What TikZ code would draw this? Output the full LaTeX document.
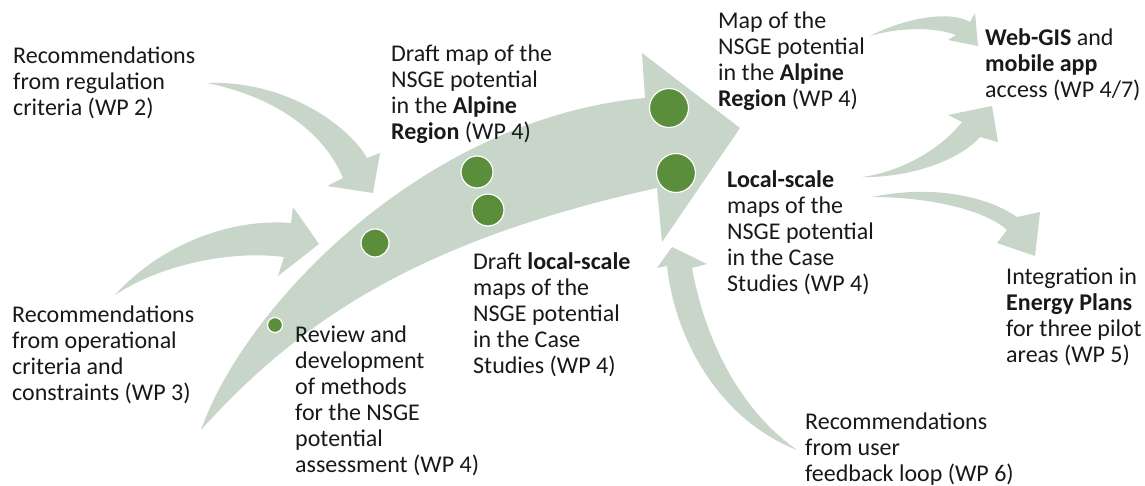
\documentclass[tikz,border=0pt]{standalone}
\usepackage{fontspec}
\setmainfont{Carlito}
\definecolor{arrowfill}{RGB}{200,214,201}
\definecolor{dotgreen}{RGB}{91,142,58}
\definecolor{txt}{RGB}{25,25,25}
\tikzset{
  lbl/.style={anchor=base west, align=left, inner sep=0pt, text=txt,
    font=\fontsize{24}{26}\selectfont},
  shaft/.style={fill=arrowfill, draw=none},
  dot/.style={circle, fill=dotgreen, draw=white, line width=1.2pt, inner sep=0pt}
}
\begin{document}
\begin{tikzpicture}[x=1pt, y=-1pt]
\useasboundingbox (0,0) rectangle (1145,486);
\fill[white] (0,0) rectangle (1145,486);

% main arrow
\path[shaft] (201,430) .. controls (245,305) and (425,118) .. (645,98)
  -- (642,53) -- (740,128) -- (662,242) -- (657,188)
  .. controls (420,240) and (300,320) .. (201,430) -- cycle;

% arrow from regulation criteria
\path[shaft] (207,83) .. controls (285,80) and (348,125) .. (367,158)
  -- (380,153) -- (373,193) -- (327,186) -- (343,178)
  .. controls (325,135) and (280,98) .. (207,83) -- cycle;

% arrow from operational criteria
\path[shaft] (115,295) .. controls (160,245) and (230,218) .. (291,223)
  -- (293,207) -- (319,244) -- (278,276) -- (284,257)
  .. controls (230,250) and (160,265) .. (115,295) -- cycle;

% arrow Map -> Web-GIS
\path[shaft] (870,36) .. controls (905,18) and (950,10) .. (970,22)
  -- (975,13) -- (978,46) -- (948,40) -- (956,35)
  .. controls (935,27) and (900,27) .. (870,36) -- cycle;

% arrow Local -> Web-GIS
\path[shaft] (862,177) .. controls (900,172) and (940,150) .. (962,122)
  -- (948,115) -- (992,106) -- (998,142) -- (980,137)
  .. controls (960,160) and (910,178) .. (862,177) -- cycle;

% arrow Local -> Integration
\path[shaft] (872,197) .. controls (930,185) and (985,195) .. (1017,217)
  -- (1040,212) -- (1035,256) -- (997,243) -- (1007,230)
  .. controls (985,210) and (930,197) .. (872,197) -- cycle;

% feedback arrow
\path[shaft] (797,450) .. controls (740,410) and (705,340) .. (692,268)
  -- (707,264) -- (672,247) -- (657,268) -- (667,266)
  .. controls (675,340) and (720,420) .. (797,450) -- cycle;

% dots
\node[dot, minimum size=15pt] (c1) at (275,325) {};
\node[dot, minimum size=28pt] (c2) at (375,243) {};
\node[dot, minimum size=32pt] (c3) at (477,172) {};
\node[dot, minimum size=32pt] (c4) at (488,210) {};
\node[dot, minimum size=39pt] (c5) at (669,108) {};
\node[dot, minimum size=39pt] (c6) at (676,173) {};

% texts (anchored at the baseline of their last line)
\node[lbl] (treg) at (13,116) {Recommendations\\from regulation\\criteria (WP 2)};
\node[lbl] (top) at (12,400) {Recommendations\\from operational\\criteria and\\constraints (WP 3)};
\node[lbl] (trev) at (295,472) {Review and\\development\\of methods\\for the NSGE\\potential\\assessment (WP 4)};
\node[lbl] (tdrafta) at (391,140) {Draft map of the\\NSGE potential\\in the \textbf{Alpine}\\\textbf{Region} (WP 4)};
\node[lbl] (tdraftl) at (473,373) {Draft \textbf{local-scale}\\maps of the\\NSGE potential\\in the Case\\Studies (WP 4)};
\node[lbl] (tmapa) at (718,107) {Map of the\\NSGE potential\\in the \textbf{Alpine}\\\textbf{Region} (WP 4)};
\node[lbl] (tlocal) at (727,291) {\textbf{Local-scale}\\maps of the\\NSGE potential\\in the Case\\Studies (WP 4)};
\node[lbl] (tweb) at (985,98) {\textbf{Web-GIS} and\\\textbf{mobile app}\\access (WP 4/7)};
\node[lbl] (tinteg) at (1006,362) {Integration in\\\textbf{Energy Plans}\\for three pilot\\areas (WP 5)};
\node[lbl] (tfeed) at (805,481) {Recommendations\\from user\\feedback loop (WP 6)};
\end{tikzpicture}
\end{document}
